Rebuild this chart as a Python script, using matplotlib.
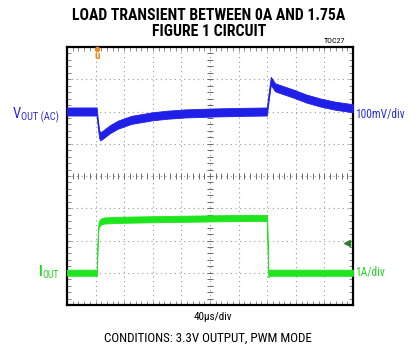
import numpy as np
import matplotlib
matplotlib.use("Agg")
import matplotlib.pyplot as plt
from matplotlib import font_manager

W, H, DPI = 417, 354, 100

# Scope settings
US_PER_DIV = 40
MV_PER_DIV = 100
A_PER_DIV = 1
VOUT_OFFSET_DIV = 2
IOUT_OFFSET_DIV = -3

# Output voltage (AC coupled), mV
t_vout = [0, 41.5, 43, 45, 46.5, 50, 60, 71, 90, 119, 140, 165, 207, 250, 279.5,
          282, 285, 291, 300, 316, 335, 354, 375, 400]
vout_mv = [0, 0, -35, -70, -77, -72, -55, -41, -26, -15, -10, -6, -3, -1, 0,
           45, 95, 75, 68, 56, 40, 28, 18, 10]
vout_ripple_mv = 25

# Load current, A
t_iout = [0, 41.8, 42.5, 43.3, 44.5, 47, 52, 70, 150, 250, 279.8, 280.6, 281.6, 283, 400]
iout_a = [0, 0, 0.7, 1.3, 1.5, 1.58, 1.62, 1.64, 1.67, 1.70, 1.70, 0.8, -0.05, 0, 0]
iout_ripple_a = 0.19

trigger_t = 42
trigger_level_a = 0.92

BLUE = "#1f1fe8"
GREEN = "#1fe51f"
BLUE_TXT = "#2e2ed8"
GREEN_TXT = "#22d622"

names = {f.name for f in font_manager.fontManager.ttflist}
if "Liberation Sans Narrow" in names:
    NARROW = ["Liberation Sans Narrow", "DejaVu Sans"]
else:
    NARROW = ["Roboto Condensed", "Liberation Sans", "DejaVu Sans"]
plt.rcParams["font.family"] = NARROW

fig = plt.figure(figsize=(W / DPI, H / DPI), dpi=DPI)
ax = fig.add_axes([67 / W, (H - 305) / H, 286 / W, 258 / H])
ax.set_xlim(0, 10 * US_PER_DIV)
ax.set_ylim(-4, 4)

# graticule
for k in range(1, 10):
    ax.axvline(k * US_PER_DIV, color="#9a9a9a", lw=0.8, ls=(0, (1, 3.2)), zorder=1)
for k in range(-3, 4):
    ax.axhline(k, color="#9a9a9a", lw=0.8, ls=(0, (1, 3.2)), zorder=1)
minor_x = np.arange(0, 10 * US_PER_DIV + 0.1, US_PER_DIV / 5)
minor_y = np.arange(-4, 4.01, 0.2)
ax.plot(minor_x, np.zeros_like(minor_x), ls="none", marker="|", ms=4, mew=0.7, color="#6a6a6a", zorder=1)
ax.plot(np.full_like(minor_y, 5 * US_PER_DIV), minor_y, ls="none", marker="_", ms=4, mew=0.7, color="#6a6a6a", zorder=1)

ax.set_xticks(minor_x)
ax.set_yticks(minor_y)
ax.tick_params(which="both", direction="in", length=3, width=0.6, color="#777777",
               top=True, right=True, labelbottom=False, labelleft=False)
for s in ax.spines.values():
    s.set_linewidth(1.6)
    s.set_color("black")

# traces
tv = np.array(t_vout)
yv = VOUT_OFFSET_DIV + np.array(vout_mv) / MV_PER_DIV
hv = vout_ripple_mv / MV_PER_DIV / 2
ax.fill_between(tv, yv - hv, yv + hv, color=BLUE, lw=0.6, edgecolor=BLUE, zorder=3)

ti = np.array(t_iout)
yi = IOUT_OFFSET_DIV + np.array(iout_a) / A_PER_DIV
hi = iout_ripple_a / A_PER_DIV / 2
ax.fill_between(ti, yi - hi, yi + hi, color=GREEN, lw=0.6, edgecolor=GREEN, zorder=3)

# trigger position and level markers
ax.plot([trigger_t], [3.93], marker="o", ms=3, color="#f08a1e", clip_on=False, zorder=5)
ax.text(trigger_t, 3.72, "u", color="#f08a1e", fontsize=8, fontweight="bold",
        ha="center", va="center", zorder=5)
ax.plot([391.5], [IOUT_OFFSET_DIV + trigger_level_a], marker="<", ms=4, color="#2f7d2f", zorder=5)


def px(x, y):
    return x / W, 1 - y / H


fig.text(*px(209, 19.5), "LOAD TRANSIENT BETWEEN 0A AND 1.75A", ha="center", va="baseline",
         fontsize=11.3, fontweight="bold")
fig.text(*px(209, 36), "FIGURE 1 CIRCUIT", ha="center", va="baseline",
         fontsize=11.3, fontweight="bold")
fig.text(*px(345, 42.7), "TOC27", ha="right", va="baseline", fontsize=5.8)

fig.text(*px(355, 117.5), "100mV/div", ha="left", va="baseline", fontsize=8.3, color=BLUE_TXT)
fig.text(*px(355, 276), "1A/div", ha="left", va="baseline", fontsize=8.3, color=GREEN_TXT)
fig.text(*px(213, 320), "40\u00b5s/div", ha="center", va="baseline", fontsize=8)
fig.text(*px(207.5, 341.7), "CONDITIONS: 3.3V OUTPUT, PWM MODE", ha="center", va="baseline", fontsize=9.4)

# channel labels with subscripts
sub_v = fig.text(*px(59.3, 120.3), "OUT (AC)", ha="right", va="baseline", fontsize=7.5, color=BLUE_TXT)
sub_i = fig.text(*px(59.3, 277.7), "OUT", ha="right", va="baseline", fontsize=7, color=GREEN_TXT)
fig.canvas.draw()
r = fig.canvas.get_renderer()
xv0 = sub_v.get_window_extent(r).x0
xi0 = sub_i.get_window_extent(r).x0
fig.text(xv0 / W - 0.5 / W, 1 - 118.3 / H, "V", ha="right", va="baseline", fontsize=10.5, color=BLUE_TXT)
fig.text(xi0 / W - 0.8 / W, 1 - 276 / H, "I", ha="right", va="baseline", fontsize=10,
         fontweight="bold", color=GREEN_TXT)

fig.savefig("out.png", dpi=DPI)
